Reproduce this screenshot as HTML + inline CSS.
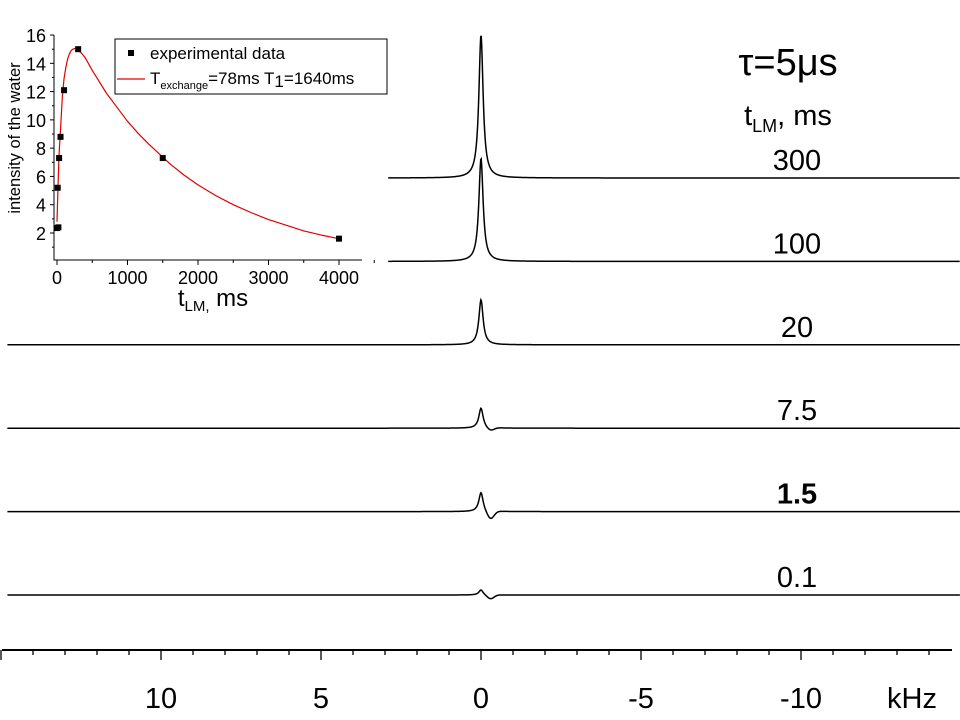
<!DOCTYPE html>
<html><head><meta charset="utf-8"><style>
body{margin:0;background:#fff;width:960px;height:720px;overflow:hidden}
svg{display:block}
text{font-family:"Liberation Sans",sans-serif}
</style></head><body>
<svg id="chart" width="960" height="720" viewBox="0 0 960 720">
<g id="main"></g>
<g id="inset"></g>
<text x="788" y="75" font-size="38" text-anchor="middle">τ=5μs</text>
<text x="788" y="125" font-size="29" text-anchor="middle">t<tspan font-size="18" dy="7">LM</tspan><tspan dy="-7">, ms</tspan></text>
</svg>
<script>
// ---- spectra data ----
const traceLabels = ['300','100','20','7.5','1.5','0.1'];
const peakHeights = [14.3, 10.3, 4.5, 2.0, 1.9, 0.5];
const dipDepths = [0, 0, 0, -0.3, -0.8, -0.4];
const traceStartKHz = [2.9, 2.9, 14.8, 14.8, 14.8, 14.8];
const kHzTicks = [10, 5, 0, -5, -10];
const kHzTickLabels = ['10','5','0','-5','-10'];
// ---- inset data ----
const expT = [0, 20, 10, 30, 50, 100, 300, 1500, 4000];
const expI = [2.35, 2.4, 5.2, 7.3, 8.8, 12.1, 15.0, 7.3, 1.6];
const fitT = [0, 10, 20, 30, 50, 75, 100, 125, 150, 175, 200, 225, 250, 275, 300, 350, 400, 500, 600, 700, 850, 1000, 1150, 1300, 1450, 1600, 1800, 2000, 2250, 2500, 2750, 3000, 3250, 3500, 3750, 4000];
const fitI = [2.8, 4.5, 6.2, 7.6, 9.3, 11.6, 12.9, 13.7, 14.3, 14.65, 14.9, 15.0, 15.05, 15.03, 14.95, 14.7, 14.4, 13.5, 12.7, 11.9, 10.9, 9.9, 9.05, 8.3, 7.6, 6.9, 6.1, 5.4, 4.65, 4.0, 3.45, 2.95, 2.55, 2.15, 1.85, 1.6];
const insetXTicks = [0, 1000, 2000, 3000, 4000];
const insetYTicks = [2, 4, 6, 8, 10, 12, 14, 16];

const NS = 'http://www.w3.org/2000/svg';
function mk(tag, attrs, parent){const e=document.createElementNS(NS,tag);for(const k in attrs)e.setAttribute(k,attrs[k]);parent.appendChild(e);return e;}
const main = document.getElementById('main');
const inset = document.getElementById('inset');

// main axes
const xk = v => 481 - v * 32;
const baseY = i => 178 + i * 83.4;
const yAmp = 10;
const ax = mk('line',{x1:2,y1:650,x2:952,y2:650,stroke:'#000','stroke-width':2},main);


for(let v=15; v>=-14; v--){
  const major = v%5===0;
  const t = mk('line',{x1:xk(v),y1:650,x2:xk(v),y2:major?660:655,stroke:'#000','stroke-width':1.3},main);
  
  
}
kHzTicks.forEach((v,i)=>{
  const t = mk('text',{x:xk(v),y:708,'font-size':29,'text-anchor':'middle'},main);
  t.textContent = kHzTickLabels[i];
  
  
});
const ku = mk('text',{x:912,y:708,'font-size':29,'text-anchor':'middle'},main);
ku.textContent='kHz';



traceLabels.forEach((lab,i)=>{
  const b = baseY(i);
  let d = '';
  const x0 = xk(traceStartKHz[i]);
  for(let x=x0; x<=960; x+=0.5){
    const k = (481 - x)/32;
    const w = 0.08;
    let y = peakHeights[i] / (1 + (k/w)*(k/w));
    if(dipDepths[i]) y += dipDepths[i] * Math.exp(-Math.pow((k+0.3)/0.15,2));
    d += (d?'L':'M') + x.toFixed(1) + ' ' + (b - y*yAmp).toFixed(2);
  }
  const p = mk('path',{d:d,fill:'none',stroke:'#000','stroke-width':1.5},main);
  
  
  const t = mk('text',{x:797,y:b-8,'font-size':29,'text-anchor':'middle','font-weight':lab==='1.5'?'bold':'normal'},main);
  t.textContent = lab;
  
  
});

// inset
const ix = t => 57 + t * 0.0705;
const iy = v => 233 - (v - 2) * 14.14;
const bg = mk('rect',{x:0,y:0,width:388,height:318,fill:'#fff'},inset);


const ya = mk('path',{d:'M54 35V260H362',fill:'none',stroke:'#000','stroke-width':1},inset);


insetYTicks.forEach(v=>{
  const l = mk('line',{x1:50,y1:iy(v),x2:54,y2:iy(v),stroke:'#000'},inset);
  
  
  const m = mk('line',{x1:52,y1:iy(v-1),x2:54,y2:iy(v-1),stroke:'#000'},inset);
  
  
  const t = mk('text',{x:46,y:iy(v)+7,'font-size':18,'text-anchor':'end'},inset);
  t.textContent = v;
  
  
});
insetXTicks.forEach(v=>{
  const l = mk('line',{x1:ix(v),y1:260,x2:ix(v),y2:265,stroke:'#000'},inset);
  
  
  const m = mk('line',{x1:ix(v+500),y1:260,x2:ix(v+500),y2:263,stroke:'#000'},inset);
  
  
  const t = mk('text',{x:ix(v),y:284,'font-size':18,'text-anchor':'middle'},inset);
  t.textContent = v;
  
  
});
let fd='';
fitT.forEach((t,i)=>{fd+=(i?'L':'M')+ix(t).toFixed(1)+' '+iy(fitI[i]).toFixed(1);});
const fit = mk('path',{d:fd,fill:'none',stroke:'#e00000','stroke-width':1.2,'stroke-linejoin':'round'},inset);


expT.forEach((t,i)=>{
  const r = mk('rect',{x:ix(t)-3,y:iy(expI[i])-3,width:6,height:6,fill:'#000'},inset);
  
  
});
const yl = mk('text',{x:0,y:0,'font-size':16.5,'text-anchor':'middle',transform:'translate(20,138) rotate(-90)'},inset);
yl.textContent='intensity of the water';


const xl = mk('text',{x:213,y:306,'font-size':24,'text-anchor':'middle'},inset);
xl.innerHTML='t<tspan font-size="15" dy="5">LM,</tspan><tspan dy="-5"> ms</tspan>';


// legend
const lg = mk('g',{},inset);


mk('rect',{x:115,y:39,width:272,height:55,fill:'#fff',stroke:'#000','stroke-width':1},lg);
mk('rect',{x:128,y:50,width:6,height:6,fill:'#000'},lg);
const lt1 = mk('text',{x:150,y:59,'font-size':17},lg);
lt1.textContent='experimental data';


mk('line',{x1:117,y1:79,x2:145,y2:79,stroke:'#e00000','stroke-width':1.2},lg);
const lt2 = mk('text',{x:150,y:84,'font-size':17},lg);
lt2.innerHTML='T<tspan font-size="11" dy="5">exchange</tspan><tspan dy="-5">=78ms T</tspan><tspan dy="3">1</tspan><tspan dy="-3">=1640ms</tspan>';


</script>
</body></html>
